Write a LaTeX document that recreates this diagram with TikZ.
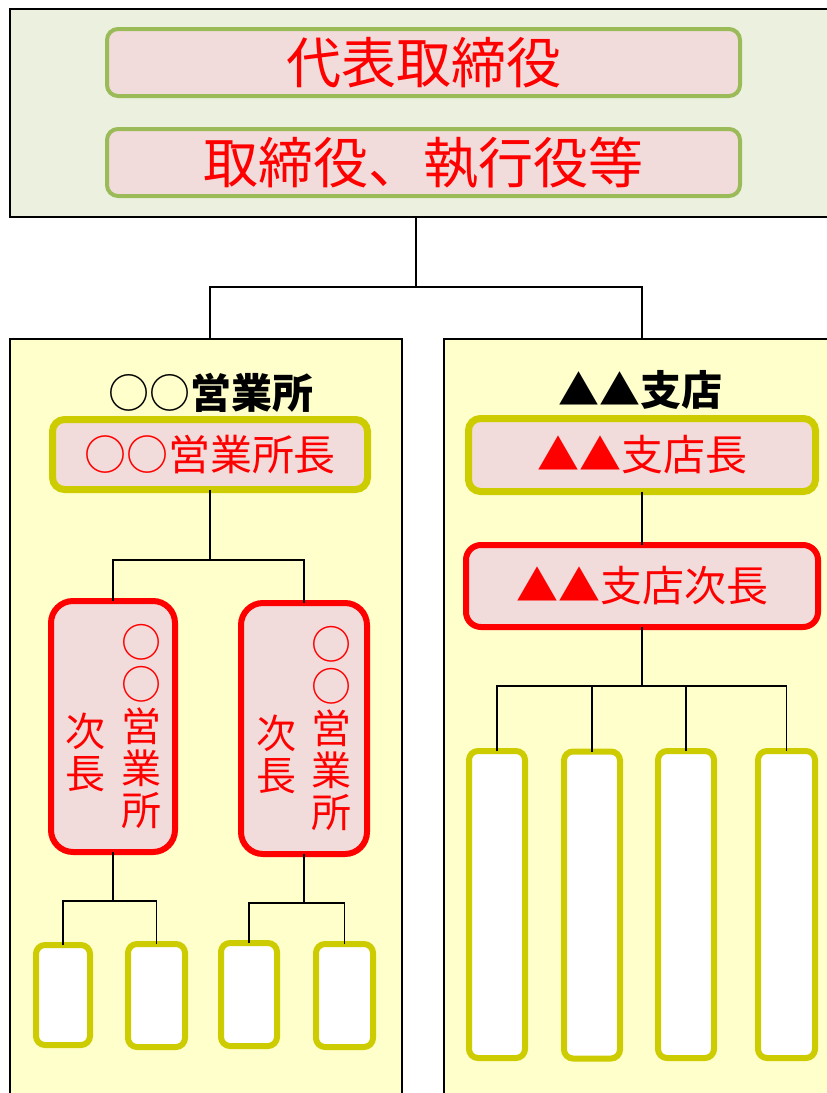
\documentclass[tikz,border=0pt]{standalone}
\usepackage{fontspec}
\setmainfont{Noto Sans CJK JP}
\definecolor{pinkf}{HTML}{F2DCDB}
\definecolor{grn}{HTML}{9BBB59}
\definecolor{olivey}{HTML}{CCCC00}
\definecolor{topfill}{HTML}{EBF1DE}
\definecolor{yelfill}{HTML}{FFFFCC}
\begin{document}
\begin{tikzpicture}[x=1pt,y=-1pt,
  conn/.style={draw=black,line width=1.3pt},
  outerbox/.style={draw=black,line width=1.8pt,inner sep=0,outer sep=0},
  exec/.style={draw=grn,line width=4pt,fill=pinkf,rounded corners=11pt,inner sep=0,outer sep=0,
    minimum width=633pt,minimum height=67pt,text=red,font=\fontsize{55}{60}\selectfont},
  mgr/.style={draw=olivey,line width=7pt,fill=pinkf,rounded corners=12pt,inner sep=0,outer sep=0,
    text=red,font=\fontsize{42}{46}\selectfont},
  dep/.style={draw=red,line width=6pt,fill=pinkf,inner sep=0,outer sep=0,
    text=red,font=\fontsize{42}{46}\selectfont},
  staff/.style={draw=olivey,line width=6pt,fill=white,rounded corners=9pt,inner sep=0,outer sep=0},
  vtext/.style={text=red,align=center,inner sep=0,font=\fontsize{40}{42}\selectfont},
  ttl/.style={inner sep=0,font=\fontsize{41}{46}\selectfont}
]
\useasboundingbox (0,0) rectangle (827,1093);
\fill[white] (0,0) rectangle (827,1093);

% top block
\node[outerbox,fill=topfill,minimum width=839pt,minimum height=208pt] (top) at (429.5,113) {};
\node[exec] (ceo) at (423.5,62.5) {代表取締役};
\node[exec] (dirs) at (423.5,162.5) {取締役、執行役等};

% branch blocks
\node[outerbox,fill=yelfill,minimum width=392pt,minimum height=780pt] (lbox) at (206,729) {};
\node[outerbox,fill=yelfill,minimum width=425pt,minimum height=780pt] (rbox) at (656.5,729) {};

\node[ttl] (ltitle) at (211,393) {○○\bfseries 営業所};
\node[ttl] (rtitle) at (640,390) {\bfseries ▲▲支店};

\node[mgr,minimum width=315pt,minimum height=70pt] (lmgr) at (210,454.5) {○○営業所長};
\node[mgr,minimum width=347pt,minimum height=73pt] (rmgr) at (642,455) {▲▲支店長};
\node[dep,rounded corners=15pt,minimum width=352pt,minimum height=82pt] (rdep) at (642,586) {▲▲支店次長};

% vertical deputy boxes
\node[dep,rounded corners=22pt,minimum width=124pt,minimum height=251pt] (vA) at (113,726.5) {};
\node[dep,rounded corners=22pt,minimum width=126pt,minimum height=251pt] (vB) at (304,728.5) {};
\node[vtext] (vAr) at (141,727) {○\\○\\営\\業\\所};
\node[vtext] (vAl) at (85,752) {次\\長};
\node[vtext] (vBr) at (331,729) {○\\○\\営\\業\\所};
\node[vtext] (vBl) at (276,754) {次\\長};

% staff boxes
\node[staff,minimum width=54pt,minimum height=100pt] (s1) at (63,995) {};
\node[staff,minimum width=57pt,minimum height=103pt] (s2) at (156.5,995.5) {};
\node[staff,minimum width=56pt,minimum height=103pt] (s3) at (249,994.5) {};
\node[staff,minimum width=57pt,minimum height=103pt] (s4) at (344.5,995.5) {};

\node[staff,minimum width=56pt,minimum height=307pt] (t1) at (497,904.5) {};
\node[staff,minimum width=56pt,minimum height=307pt] (t2) at (592,905) {};
\node[staff,minimum width=56pt,minimum height=307pt] (t3) at (686,904.5) {};
\node[staff,minimum width=57pt,minimum height=307pt] (t4) at (786.5,904.5) {};

% junctions
\coordinate (j0) at (416,287);
\coordinate (j1) at (210,560);
\coordinate (j2) at (110,901);
\coordinate (j3) at (299,903);
\coordinate (j4) at (642,686);

% connectors
\draw[conn] (top.south -| j0) -- (j0);
\draw[conn] (lbox.north -| lmgr) |- (j0) -| (rbox.north -| rmgr);
\draw[conn] (lmgr.south) -- (j1);
\draw[conn] (vA.north) |- (j1) -| (vB.north);
\draw[conn] (vA.south) -- (vA.south |- j2);
\draw[conn] (s1.north) |- (j2) -| (s2.north);
\draw[conn] (vB.south) -- (vB.south |- j3);
\draw[conn] (s3.north) |- (j3) -| (s4.north);
\draw[conn] (rmgr.south) -- (rdep.north);
\draw[conn] (rdep.south) -- (j4);
\draw[conn] (t1.north) |- (j4) -| (t4.north);
\draw[conn] (t2.north) -- (t2.north |- j4);
\draw[conn] (t3.north) -- (t3.north |- j4);
\end{tikzpicture}
\end{document}
